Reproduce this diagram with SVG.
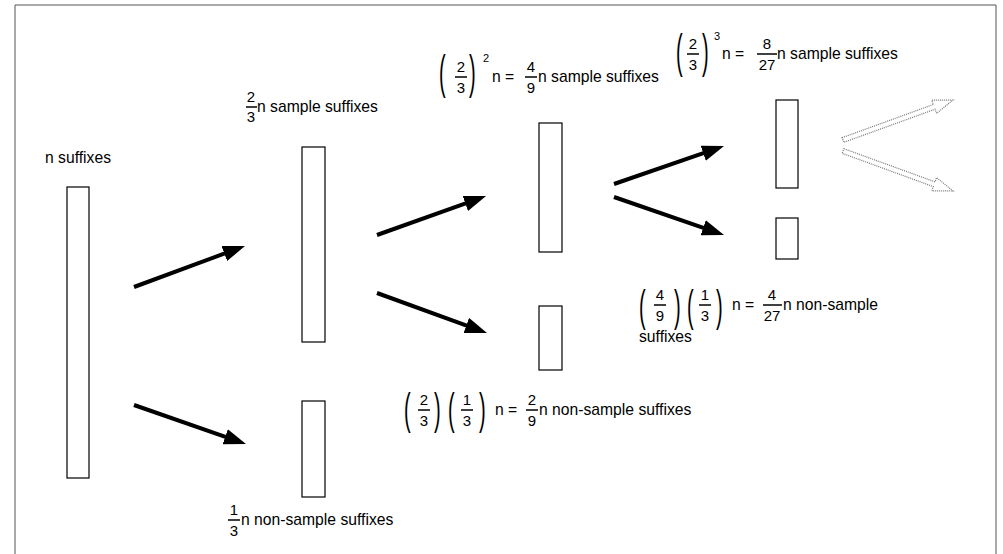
<svg xmlns="http://www.w3.org/2000/svg" width="1003" height="554" viewBox="0 0 1003 554">
<defs>
<style>
.t{font-family:"Liberation Sans",Arial,sans-serif;font-size:15.7px;fill:#000}
.d{font-family:"Liberation Sans",Arial,sans-serif;font-size:15px;fill:#000;text-anchor:middle}
.s{font-family:"Liberation Sans",Arial,sans-serif;font-size:11px;fill:#000}
.p{font-family:"Liberation Sans",Arial,sans-serif;font-size:20px;fill:#000}
.bar{stroke:#000;stroke-width:1.5}
.box{fill:#fff;stroke:#000;stroke-width:1.2}
.arr{stroke:#000;stroke-width:4;fill:none;marker-end:url(#ah)}
.ghost{fill:#fff;stroke:#777;stroke-width:1.2;stroke-dasharray:1 1}
</style>
<marker id="ah" markerUnits="userSpaceOnUse" markerWidth="24" markerHeight="18" refX="4" refY="8" orient="auto">
<path d="M0,0 L22,8 L0,16 z" fill="#000"/>
</marker>
</defs>
<rect width="1003" height="554" fill="#fff"/>
<path d="M15,554 V5 H996 V554" fill="none" stroke="#555" stroke-width="1"/>

<g id="n1">
<text class="t" x="45" y="163">n suffixes</text>
<rect class="box" x="67" y="187" width="22" height="291"/>
</g>

<g id="n2">
<text class="d" x="251" y="102">2</text>
<line class="bar" x1="246" y1="107" x2="257" y2="107"/>
<text class="d" x="251" y="122">3</text>
<text class="t" x="257" y="112">n sample suffixes</text>
<rect class="box" x="302" y="147" width="23" height="195"/>
</g>

<g id="n3">
<rect class="box" x="302" y="401" width="23" height="96"/>
<text class="d" x="234" y="515">1</text>
<line class="bar" x1="228" y1="520" x2="240" y2="520"/>
<text class="d" x="234" y="536">3</text>
<text class="t" x="241" y="525">n non-sample suffixes</text>
</g>

<g id="n4">
<text class="p" transform="translate(439,88) scale(1,2.34)">(</text>
<text class="d" x="461" y="72">2</text>
<line class="bar" x1="455" y1="77" x2="467" y2="77"/>
<text class="d" x="461" y="93">3</text>
<text class="p" transform="translate(469,88) scale(1,2.34)">)</text>
<text class="s" x="483" y="62">2</text>
<text class="t" x="492" y="82">n =</text>
<text class="d" x="531" y="72">4</text>
<line class="bar" x1="525" y1="77" x2="537" y2="77"/>
<text class="d" x="531" y="93">9</text>
<text class="t" x="538" y="82">n sample suffixes</text>
<rect class="box" x="539" y="123" width="23" height="129"/>
</g>

<g id="n5">
<rect class="box" x="539" y="306" width="23" height="64"/>
<text class="p" transform="translate(404,424) scale(1,2.2)">(</text>
<text class="d" x="424" y="405">2</text>
<line class="bar" x1="418" y1="410" x2="430" y2="410"/>
<text class="d" x="424" y="426">3</text>
<text class="p" transform="translate(434,424) scale(1,2.2)">)</text>
<text class="p" transform="translate(448,424) scale(1,2.2)">(</text>
<text class="d" x="467" y="405">1</text>
<line class="bar" x1="461" y1="410" x2="473" y2="410"/>
<text class="d" x="467" y="426">3</text>
<text class="p" transform="translate(479,424) scale(1,2.2)">)</text>
<text class="t" x="495" y="415">n =</text>
<text class="d" x="532" y="405">2</text>
<line class="bar" x1="526" y1="410" x2="538" y2="410"/>
<text class="d" x="532" y="426">9</text>
<text class="t" x="539" y="415">n non-sample suffixes</text>
</g>

<g id="n6">
<text class="p" transform="translate(676,67) scale(1,2.34)">(</text>
<text class="d" x="693" y="49">2</text>
<line class="bar" x1="687" y1="54" x2="699" y2="54"/>
<text class="d" x="693" y="70">3</text>
<text class="p" transform="translate(702,67) scale(1,2.34)">)</text>
<text class="s" x="714" y="40">3</text>
<text class="t" x="722" y="59">n =</text>
<text class="d" x="767" y="49">8</text>
<line class="bar" x1="757" y1="54" x2="777" y2="54"/>
<text class="d" x="767" y="70">27</text>
<text class="t" x="777" y="59">n sample suffixes</text>
<rect class="box" x="776" y="100" width="22" height="88"/>
</g>

<g id="n7">
<rect class="box" x="776" y="218" width="22" height="41"/>
<text class="p" transform="translate(639,321) scale(1,2.2)">(</text>
<text class="d" x="660" y="300">4</text>
<line class="bar" x1="654" y1="305" x2="666" y2="305"/>
<text class="d" x="660" y="321">9</text>
<text class="p" transform="translate(674,321) scale(1,2.2)">)</text>
<text class="p" transform="translate(687,321) scale(1,2.2)">(</text>
<text class="d" x="705" y="300">1</text>
<line class="bar" x1="699" y1="305" x2="711" y2="305"/>
<text class="d" x="705" y="321">3</text>
<text class="p" transform="translate(716,321) scale(1,2.2)">)</text>
<text class="t" x="732" y="310">n =</text>
<text class="d" x="772" y="300">4</text>
<line class="bar" x1="763" y1="305" x2="782" y2="305"/>
<text class="d" x="772" y="321">27</text>
<text class="t" x="783" y="310">n non-sample</text>
<text class="t" x="639" y="342">suffixes</text>
</g>

<g id="connectors">
<line class="arr" x1="134" y1="287" x2="228.1" y2="252.2"/>
<line class="arr" x1="134" y1="405" x2="229" y2="438.1"/>
<line class="arr" x1="377" y1="235" x2="469.1" y2="202.1"/>
<line class="arr" x1="377" y1="293" x2="470.1" y2="326.8"/>
<line class="arr" x1="614" y1="184" x2="707" y2="151.9"/>
<line class="arr" x1="614" y1="197" x2="707" y2="229.1"/>
<polygon class="ghost" points="842.1,137.7 933.3,104.5 931.8,100.2 953,100 936.6,113.4 935.1,109.2 843.9,142.3"/>
<polygon class="ghost" points="843.9,148.7 935.1,181.9 936.6,177.6 953,191 931.8,190.8 933.3,186.6 842.1,153.3"/>
</g>
</svg>
